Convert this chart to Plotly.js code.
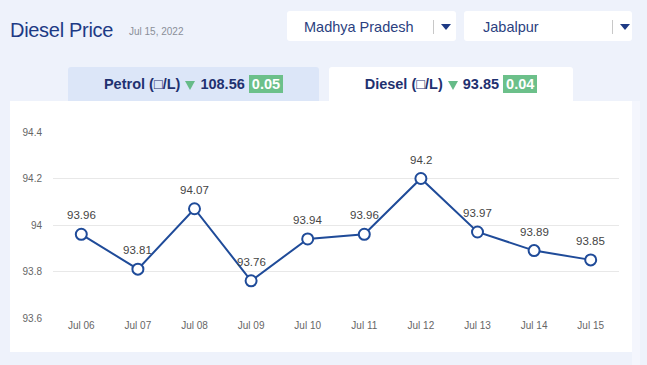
<!DOCTYPE html>
<html>
<head>
<meta charset="utf-8">
<script src="https://cdn.plot.ly/plotly-3.0.1.min.js"></script>
<style>
  html, body { margin: 0; padding: 0; }
  body { width: 647px; height: 365px; background: #eef2fb; position: relative; overflow: hidden;
         font-family: "Liberation Sans", Arial, sans-serif; }
  .abs { position: absolute; }
  #title { left: 10px; top: 19px; font-size: 20px; color: #1d3a85; letter-spacing: -0.3px; }
  #date { left: 129px; top: 26px; font-size: 10px; color: #8a8f99; }
  .dd { background: #fff; border-radius: 3px; height: 30px; top: 11px; }
  .dd .lbl { position: absolute; top: 8px; font-size: 14.5px; color: #2b3f80; }
  .dd .sep { position: absolute; top: 9px; width: 1px; height: 14px; background: #c8c8c8; }
  .dd .arr { position: absolute; top: 13px; width: 0; height: 0; border-left: 5px solid transparent;
             border-right: 5px solid transparent; border-top: 6px solid #1d3a85; }
  .tab { top: 67px; height: 34px; border-radius: 3px 3px 0 0; font-weight: bold; font-size: 14.5px;
         color: #1f3170; text-align: center; line-height: 34px; }
  .tri { display: inline-block; width: 0; height: 0; border-left: 5px solid transparent;
         border-right: 5px solid transparent; border-top: 9px solid #66bb88; vertical-align: -1px; margin: 0 1px; }
  .badge { background: #6cc08a; color: #fff; padding: 0 3px; display: inline-block; line-height: 18px; }
  #panel { left: 10px; top: 101px; width: 622px; height: 251px; background: #fff; }
  #strip { left: 632px; top: 101px; width: 8px; height: 264px; background: #f4f6fd; }
</style>
</head>
<body>
<div id="title" class="abs">Diesel Price</div>
<div id="date" class="abs">Jul 15, 2022</div>
<div class="abs dd" style="left:287px;width:169px;">
  <span class="lbl" style="left:17px;">Madhya Pradesh</span>
  <span class="sep" style="left:146px;"></span>
  <span class="arr" style="left:154px;"></span>
</div>
<div class="abs dd" style="left:464px;width:168px;">
  <span class="lbl" style="left:19px;">Jabalpur</span>
  <span class="sep" style="left:148px;"></span>
  <span class="arr" style="left:156px;"></span>
</div>
<div class="abs tab" style="left:68px;width:251px;background:#dce6f8;">Petrol (□/L) <span class="tri"></span> 108.56 <span class="badge">0.05</span></div>
<div class="abs tab" style="left:329px;width:244px;background:#fff;">Diesel (□/L) <span class="tri"></span> 93.85 <span class="badge">0.04</span></div>
<div id="strip" class="abs"></div>
<div id="panel" class="abs"></div>
<script>
const dates = ["Jul 06","Jul 07","Jul 08","Jul 09","Jul 10","Jul 11","Jul 12","Jul 13","Jul 14","Jul 15"];
const dieselPrices = [93.96, 93.81, 94.07, 93.76, 93.94, 93.96, 94.2, 93.97, 93.89, 93.85];
const yTicks = [93.6, 93.8, 94, 94.2, 94.4];

const trace = {
  x: dates,
  y: dieselPrices,
  type: "scatter",
  mode: "lines+markers",
  line: { color: "#1f4b99", width: 2 },
  marker: { size: 11, color: "#ffffff", line: { color: "#1f4b99", width: 2 } },
  cliponaxis: false,
  hoverinfo: "x+y"
};

const labels = dates.map((d, i) => ({
  x: d, y: dieselPrices[i], xref: "x", yref: "y",
  text: String(dieselPrices[i]), showarrow: false, yshift: 19,
  font: { family: "Liberation Sans, Arial, sans-serif", size: 11.5, color: "#444" }
}));

const layout = {
  width: 622, height: 251,
  margin: { l: 43, r: 13, t: 31, b: 34, pad: 0 },
  paper_bgcolor: "#ffffff", plot_bgcolor: "#ffffff",
  showlegend: false,
  font: { family: "Liberation Sans, Arial, sans-serif", size: 10, color: "#666" },
  annotations: labels,
  xaxis: { type: "category", range: [-0.5, 9.5], showgrid: false, zeroline: false, showline: false,
           ticks: "", tickfont: { size: 10, color: "#666" }, fixedrange: true },
  yaxis: { range: [93.6, 94.4], tickvals: yTicks, ticktext: yTicks.map(String), showgrid: true,
           gridcolor: "#e8e8e8", gridwidth: 1, zeroline: false, showline: false, ticks: "",
           ticklabelstandoff: 10, tickfont: { size: 10, color: "#666" }, fixedrange: true }
};

Plotly.newPlot("panel", [trace], layout, { displayModeBar: false, staticPlot: true });
</script>
</body>
</html>
